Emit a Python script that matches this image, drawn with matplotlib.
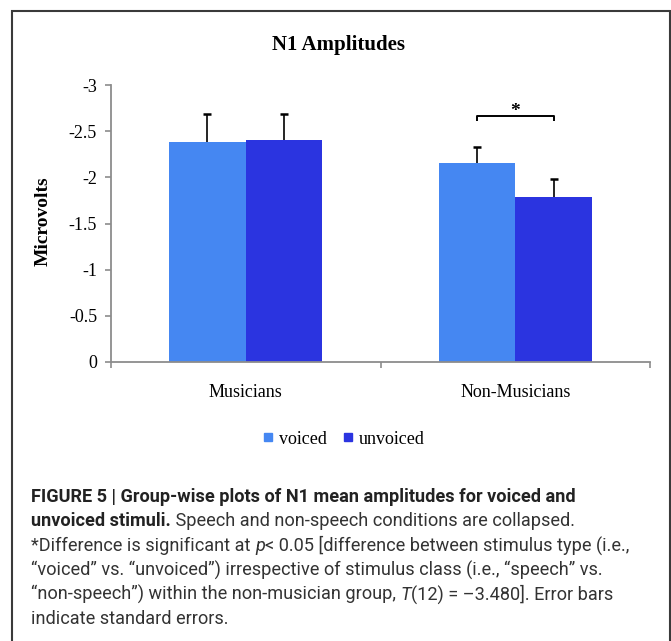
import numpy as np
import matplotlib
matplotlib.use("Agg")
import matplotlib.pyplot as plt
from matplotlib.lines import Line2D
from matplotlib.patches import Rectangle

# values (negative microvolts, axis inverted)
groups = ["Musicians", "Non-Musicians"]
conditions = ["voiced", "unvoiced"]
voiced = [-2.38, -2.16]
unvoiced = [-2.40, -1.79]
voiced_se = [0.31, 0.17]
unvoiced_se = [0.29, 0.19]
yticks = [0, -0.5, -1, -1.5, -2, -2.5, -3]
ytick_labels = ["0", "-0.5", "-1", "-1.5", "-2", "-2.5", "-3"]
sig_level = -2.665

caption_lines = [
    [("FIGURE 5 | Group-wise plots of N1 mean amplitudes for voiced and", "bold", "normal")],
    [("unvoiced stimuli.", "bold", "normal"),
     (" Speech and non-speech conditions are collapsed.", "normal", "normal")],
    [("*Difference is significant at ", "normal", "normal"), ("p", "normal", "italic"),
     ("< 0.05 [difference between stimulus type (i.e.,", "normal", "normal")],
    [("\u201cvoiced\u201d vs. \u201cunvoiced\u201d) irrespective of stimulus class (i.e., \u201cspeech\u201d vs.",
      "normal", "normal")],
    [("\u201cnon-speech\u201d) within the non-musician group, ", "normal", "normal"),
     ("T", "normal", "italic"), ("(12) = \u20133.480]. Error bars", "normal", "normal")],
    [("indicate standard errors.", "normal", "normal")],
]

W, H = 671, 641
SERIF = ["Liberation Serif", "DejaVu Serif"]
SANS = ["Liberation Sans Narrow", "Roboto", "DejaVu Sans"]
c_voiced = "#4587F2"
c_unvoiced = "#2B34E0"
axis_gray = "#8c8c8c"

fig = plt.figure(figsize=(W / 100, H / 100), dpi=100)
ax = fig.add_axes([111 / W, (H - 362) / H, (650 - 111) / W, (362 - 85) / H])

x = np.arange(len(groups))
bw = 0.284
ax.bar(x - bw / 2, voiced, bw, color=c_voiced, zorder=2)
ax.bar(x + bw / 2, unvoiced, bw, color=c_unvoiced, zorder=2)

# one-sided error bars (upwards on the inverted axis)
for xs, vals, se in [(x - bw / 2, voiced, voiced_se), (x + bw / 2, unvoiced, unvoiced_se)]:
    tops = np.array(vals) - np.array(se)
    ax.vlines(xs, vals, tops, color="black", lw=1.2, zorder=3)
    ax.plot(xs, tops, ls="none", marker="_", ms=6, mew=1.8, color="black", zorder=3)

# significance bracket for non-musicians
x0, x1 = 1 - bw / 2, 1 + bw / 2
ax.plot([x0, x0, x1, x1], [sig_level + 0.05, sig_level, sig_level, sig_level + 0.05],
        color="black", lw=1.4, solid_capstyle="butt")
ax.text(1, sig_level + 0.005, "*", ha="center", va="baseline", fontsize=14,
        fontweight="bold", family=SERIF)

ax.set_ylim(0, -3)
ax.set_xlim(-0.5, 1.5)
ax.set_yticks(yticks)
ax.set_yticklabels(ytick_labels, family=SERIF, fontsize=13)
ax.set_xticks(x)
ax.set_xticklabels(groups, family=SERIF, fontsize=13)
ax.set_xticks([-0.5, 0.5, 1.5], minor=True)
ax.tick_params(axis="x", which="major", length=0, pad=15.5)
ax.tick_params(axis="x", which="minor", length=4, width=1.2, color=axis_gray, direction="out")
ax.tick_params(axis="y", length=4, width=1.2, color=axis_gray, direction="out", pad=6)
for s in ["top", "right"]:
    ax.spines[s].set_visible(False)
for s in ["left", "bottom"]:
    ax.spines[s].set_color(axis_gray)
    ax.spines[s].set_linewidth(1.3)

fig.text(338 / W, 1 - 45 / H, "N1 Amplitudes", ha="center", va="center",
         fontsize=15, fontweight="bold", family=SERIF)
fig.text(43 / W, 1 - 221 / H, "Microvolts", ha="center", va="center", rotation=90,
         fontsize=14, fontweight="bold", family=SERIF)

handles = [Line2D([], [], ls="none", marker="s", ms=6, color=c) for c in (c_voiced, c_unvoiced)]
fig.legend(handles, conditions, loc="center", bbox_to_anchor=(344 / W, 1 - 439 / H),
           ncol=2, frameon=False, handlelength=0.5, handletextpad=0.35,
           columnspacing=0.9, prop={"family": SERIF, "size": 13})

# frame around the figure panel
fig.add_artist(Rectangle((12 / W, -0.05), (670 - 12) / W, 1.05 - 11 / H,
                         transform=fig.transFigure, fill=False,
                         edgecolor="#3a3a3a", lw=1.5, clip_on=False))

# caption, drawn segment by segment so bold / italic runs line up
renderer = fig.canvas.get_renderer()


def seg_width(s, size, weight, style):
    t = fig.text(0, 0, s + "|", fontsize=size, fontweight=weight, fontstyle=style, family=SANS)
    r = fig.text(0, 0, "|", fontsize=size, fontweight=weight, fontstyle=style, family=SANS)
    w = t.get_window_extent(renderer).width - r.get_window_extent(renderer).width
    t.remove()
    r.remove()
    return w


base = 13
cap_size = min(base * 544 / seg_width(caption_lines[0][0][0], base, "bold", "normal"), 13.5)

y0, dy = 502, 24.5
for i, line in enumerate(caption_lines):
    xpos = 31
    for txt, weight, style in line:
        fig.text(xpos / W, 1 - (y0 + i * dy) / H, txt, ha="left", va="baseline",
                 fontsize=cap_size, fontweight=weight, fontstyle=style, family=SANS,
                 color="#222222" if weight == "bold" else "#333333")
        xpos += seg_width(txt, cap_size, weight, style)

fig.savefig("out.png", dpi=100)
